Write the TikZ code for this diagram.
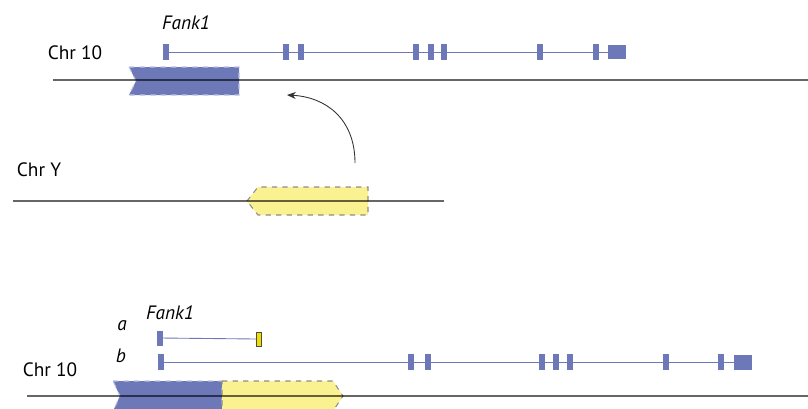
\documentclass[tikz,border=0pt]{standalone}
\usepackage{fontspec}
\setmainfont{PT Sans}
\usetikzlibrary{positioning, arrows.meta}
\definecolor{exonblue}{RGB}{108,120,184}
\definecolor{insyellow}{RGB}{250,242,145}
\definecolor{exonyellow}{RGB}{240,222,0}
\tikzset{
        chrom/.style={line width=0.8pt, black, opacity=0.6},
        intron/.style={line width=0.5pt, exonblue},
        exon/.style={rectangle, fill=exonblue, inner sep=0pt, minimum width=0.13cm, minimum height=0.33cm},
        lastexon/.style={exon, minimum width=0.36cm, minimum height=0.30cm},
        yexon/.style={rectangle, fill=exonyellow, draw=black!70, line width=0.4pt, inner sep=0pt, minimum width=0.11cm, minimum height=0.28cm},
        bluefrag/.style={fill=exonblue, draw=exonblue!45!white, line width=0.6pt, dash pattern=on 3pt off 3pt},
        yellowfrag/.style={fill=insyellow, draw=black!45, line width=0.6pt, dash pattern=on 3pt off 3pt},
        chrlabel/.style={font=\fontsize{11}{13}\selectfont},
        genelabel/.style={font=\fontsize{11}{13}\selectfont\itshape},
        move/.style={-{Stealth[length=5pt,width=4pt]}, line width=0.5pt, black!80},
}

\begin{document}
\begin{tikzpicture}[x=0.02cm, y=-0.02cm]
        \useasboundingbox (0,0) rectangle (808,409);

        % TOP: CHR 10 BEFORE
        \node[chrlabel]  (CHRA)  at (75,53)  {Chr 10};
        \node[genelabel] (FANKA) at (186,23) {Fank1};
        \foreach \x [count=\i] in {166,286,301,416,431,444,540,596}
            \node[exon] (TEX\i) at (\x,52) {};
        \node[lastexon] (TEXEND) at (617,52) {};
        \draw[intron] (TEX1.center) -- (TEXEND.center);

        \filldraw[bluefrag] (129,67) -- (239,67) -- (239,95) -- (129,95) -- (136,81) -- cycle;
        \coordinate (CHRAL) at (53,80);
        \coordinate (CHRAR) at (808,80);
        \draw[chrom] (CHRAL) -- (CHRAR);

        % MIDDLE: CHR Y
        \node[chrlabel] (CHRY) at (39,170) {Chr Y};
        \filldraw[yellowfrag] (247,201) -- (258,187) -- (368,187) -- (368,215) -- (258,215) -- cycle;
        \coordinate (CHRYL) at (13,201);
        \coordinate (CHRYR) at (444,201);
        \draw[chrom] (CHRYL) -- (CHRYR);

        % MOVE ARROW
        \coordinate (MOVS) at (355,163);
        \coordinate (MOVE) at (287,95);
        \draw[move] (MOVS) .. controls (355,118) and (325,97) .. (MOVE);

        % BOTTOM: CHR 10 AFTER
        \node[chrlabel]  (CHRB)  at (50,370)  {Chr 10};
        \node[genelabel] (FANKB) at (170,313) {Fank1};
        \node[genelabel] (LBLA)  at (122,326) {a};
        \node[genelabel] (LBLB)  at (121,356) {b};

        % transcript a
        \node[exon, minimum height=0.30cm] (AEX1) at (160,338) {};
        \node[yexon] (AEX2) at (259,339) {};
        \draw[intron] (AEX1.center) -- (AEX2.west);

        % transcript b
        \foreach \x [count=\i] in {161,411,428,542,556,570,666,721}
            \node[exon] (BEX\i) at (\x,362) {};
        \node[lastexon] (BEXEND) at (743,362) {};
        \draw[intron] (BEX1.center) -- (BEXEND.center);

        \filldraw[bluefrag] (113,381) -- (222,381) -- (222,411) -- (113,411) -- (120,396) -- cycle;
        \filldraw[yellowfrag] (222,381) -- (333,381) -- (343,396) -- (333,411) -- (222,411) -- cycle;
        \coordinate (CHRBL) at (27,396);
        \coordinate (CHRBR) at (808,396);
        \draw[chrom] (CHRBL) -- (CHRBR);

\end{tikzpicture}
\end{document}
